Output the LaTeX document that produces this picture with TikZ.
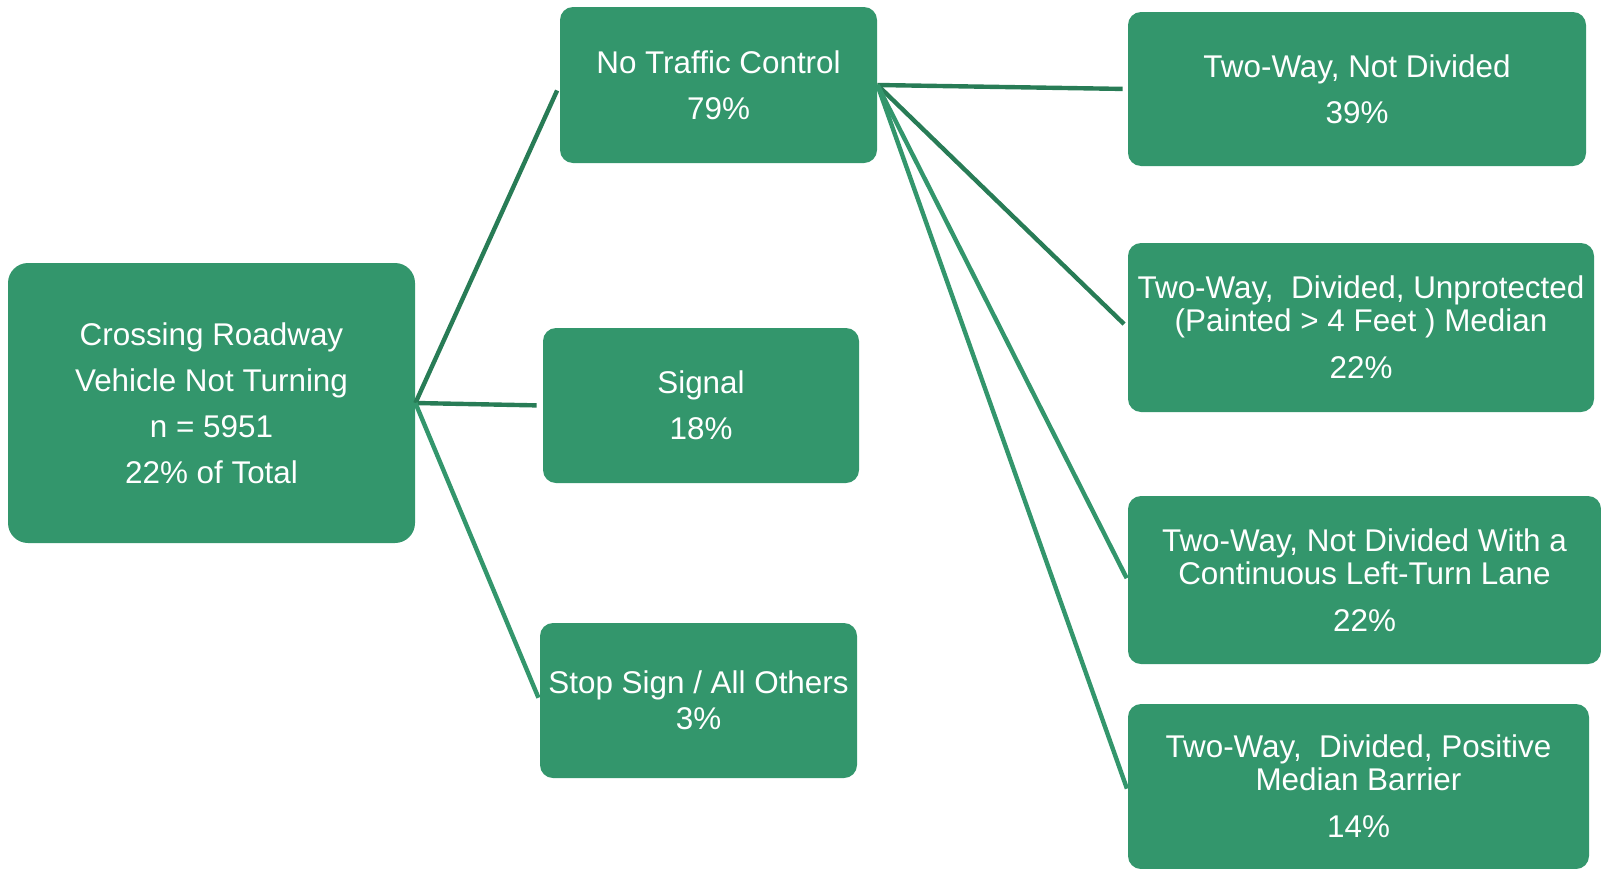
\documentclass[tikz,border=0pt]{standalone}
\usepackage{fontspec}
\setmainfont{Liberation Sans}
\usepackage{tikz}
\usetikzlibrary{positioning}
\definecolor{rdgreen}{RGB}{51,150,108}
\definecolor{rddark}{RGB}{40,124,86}
\tikzstyle{box} = [rectangle, rounded corners=6.5pt, fill=rdgreen, text=white, align=center, inner sep=1pt, font=\fontsize{15.7}{23}\selectfont]
\tikzstyle{tight} = [font=\fontsize{15.7}{16.5}\selectfont]
\tikzstyle{link} = [line width=2.2pt, color=rddark]
\tikzstyle{linklight} = [line width=2.2pt, color=rdgreen]

\begin{document}
\begin{tikzpicture}[x=0.5pt, y=-0.5pt]
\useasboundingbox (0,0) rectangle (1601,868);
% Root
\node (root) [box, rounded corners=10pt, minimum width=203.5pt, minimum height=140pt] at (211.5,403) {Crossing Roadway\\Vehicle Not Turning\\n = 5951\\22\% of Total};

% Traffic control
\node (ntc) [box, minimum width=158.5pt, minimum height=78pt] at (718.5,85) {No Traffic Control\\79\%};
\node (signal) [box, minimum width=158pt, minimum height=77.5pt] at (701,405.5) {Signal\\18\%};
\node (stop) [box, minimum width=158.5pt, minimum height=77.5pt, font=\fontsize{15.7}{18}\selectfont] at (698.5,700.5) {Stop Sign / All Others\\3\%};

% Roadway type
\node (notdiv) [box, minimum width=229pt, minimum height=77pt] at (1357,89) {Two-Way, Not Divided\\39\%};
\node (painted) [box, tight, minimum width=233pt, minimum height=84.5pt] at (1361,327.5) {Two-Way,~~Divided, Unprotected\\(Painted > 4 Feet ) Median\\[7pt]22\%};
\node (leftturn) [box, tight, minimum width=236.5pt, minimum height=84pt] at (1364.5,580) {Two-Way, Not Divided With a\\Continuous Left-Turn Lane\\[7pt]22\%};
\node (barrier) [box, tight, minimum width=230.5pt, minimum height=82.5pt] at (1358.5,786.5) {Two-Way,~~Divided, Positive\\Median Barrier\\[7pt]14\%};

% Connectors
\draw[link, shorten >=3pt] (root.east) -- (ntc.west);
\draw[link, shorten >=3pt] (root.east) -- (signal.west);
\draw[linklight, shorten >=1.5pt] (root.east) -- (stop.west);
\draw[link, shorten >=2.5pt] (ntc.east) -- (notdiv.west);
\draw[link, shorten >=2.5pt] (ntc.east) -- (painted.west);
\draw[linklight, shorten >=1pt] (ntc.east) -- (leftturn.west);
\draw[linklight, shorten >=1pt] (ntc.east) -- ([yshift=-2pt]barrier.west);
\end{tikzpicture}
\end{document}
